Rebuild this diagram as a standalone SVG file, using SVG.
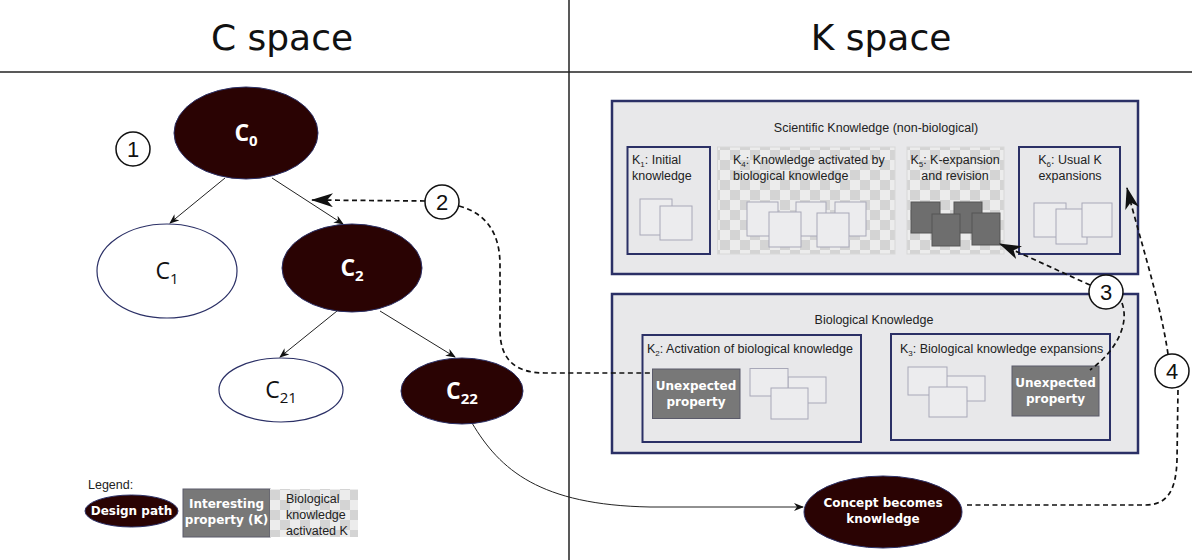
<svg xmlns="http://www.w3.org/2000/svg" width="1192" height="560" viewBox="0 0 1192 560">
<style>
.title{font-family:"DejaVu Sans",sans-serif;font-size:36px;fill:#111;text-anchor:middle}
.lbl{font-family:"Liberation Sans",Arial,sans-serif;font-size:12.5px;fill:#222}
.wb{font-family:"DejaVu Sans","Liberation Sans",sans-serif;font-size:12px;font-weight:bold;fill:#fff;text-anchor:middle}
.cw{font-family:"Open Sans","Liberation Sans",sans-serif;font-size:23px;font-weight:bold;fill:#fff;text-anchor:middle}
.cb{font-family:"Open Sans","Liberation Sans",sans-serif;font-size:23px;fill:#111;text-anchor:middle}
.num{font-family:"Liberation Sans",Arial,sans-serif;font-size:22px;fill:#111;text-anchor:middle}
.dark{fill:#2a0303;stroke:#2b3066;stroke-width:1}
.light{fill:#fff;stroke:#2b3066;stroke-width:1.2}
.outer{fill:#e8e8ea;stroke:#2b3066;stroke-width:2.5}
.inner{fill:#e8e8ea;stroke:#2b3066;stroke-width:2}
.chkbox{fill:url(#chk);stroke:#d8d8d8;stroke-width:1}
.sq{fill:#ececee;stroke:#a8a8b8;stroke-width:1}
.dsq{fill:#6e6e6e;stroke:#555;stroke-width:1}
.prop{fill:#787878;stroke:#5a5a6a;stroke-width:1}
.circ{fill:#fff;stroke:#111;stroke-width:1.5}
.edge{fill:none;stroke:#222;stroke-width:1}
.dash{fill:none;stroke:#111;stroke-width:1.7;stroke-dasharray:5 3.5}
</style>
<defs>
<pattern id="chk" width="20" height="20" patternUnits="userSpaceOnUse">
<rect width="20" height="20" fill="#ececec"/>
<rect width="10" height="10" fill="#d4d4d4"/>
<rect x="10" y="10" width="10" height="10" fill="#d4d4d4"/>
</pattern>
<marker id="ah" markerWidth="10" markerHeight="8" refX="9" refY="4" orient="auto" markerUnits="userSpaceOnUse">
<path d="M0,0 L10,4 L0,8 L3,4 Z" fill="#111"/>
</marker>
<marker id="ahb" markerWidth="22" markerHeight="14" refX="21" refY="7" orient="auto" markerUnits="userSpaceOnUse">
<path d="M0,0 L22,7 L0,14 L6,7 Z" fill="#111"/>
</marker>
</defs>
<rect width="1192" height="560" fill="#fff"/>

<g id="frame">
<line x1="0" y1="72" x2="1192" y2="72" stroke="#222" stroke-width="1.5"/>
<line x1="569" y1="0" x2="569" y2="560" stroke="#222" stroke-width="1.5"/>
<text class="title" x="282" y="50">C space</text>
<text class="title" x="881" y="50">K space</text>
</g>

<g id="scientific">
<rect class="outer" x="612" y="101" width="526" height="173"/>
<text class="lbl" x="876" y="132" text-anchor="middle">Scientific Knowledge (non-biological)</text>
</g>
<g id="K1">
<rect class="inner" x="627.5" y="147" width="82.5" height="107"/>
<text class="lbl" x="632" y="164">K<tspan font-size="8" dy="3">1</tspan><tspan dy="-3">: Initial</tspan></text>
<text class="lbl" x="632" y="180">knowledge</text>
<rect class="sq" x="640" y="199" width="32" height="36"/>
<rect class="sq" x="660" y="206" width="32" height="34"/>
</g>
<g id="K4">
<rect class="chkbox" x="717.5" y="147" width="177.5" height="107"/>
<text class="lbl" x="733" y="164">K<tspan font-size="8" dy="3">4</tspan><tspan dy="-3">: Knowledge activated by</tspan></text>
<text class="lbl" x="733" y="180">biological knowledge</text>
<rect class="sq" x="747" y="202" width="31" height="34"/>
<rect class="sq" x="796" y="202" width="30" height="34"/>
<rect class="sq" x="835" y="202" width="31" height="34"/>
<rect class="sq" x="769" y="212" width="32" height="35"/>
<rect class="sq" x="817" y="213" width="32" height="34"/>
</g>
<g id="K5">
<rect class="chkbox" x="907" y="147" width="97" height="107"/>
<text class="lbl" x="955" y="164" text-anchor="middle">K<tspan font-size="8" dy="3">5</tspan><tspan dy="-3">: K-expansion</tspan></text>
<text class="lbl" x="955" y="180" text-anchor="middle">and revision</text>
<rect class="dsq" x="911" y="202" width="29" height="31"/>
<rect class="dsq" x="954" y="202" width="28" height="31"/>
<rect class="dsq" x="932" y="214" width="28" height="32"/>
<rect class="dsq" x="972" y="213" width="28" height="32"/>
</g>
<g id="K6">
<rect class="inner" x="1019" y="147" width="101" height="107"/>
<text class="lbl" x="1070" y="164" text-anchor="middle">K<tspan font-size="8" dy="3">6</tspan><tspan dy="-3">: Usual K</tspan></text>
<text class="lbl" x="1070" y="180" text-anchor="middle">expansions</text>
<rect class="sq" x="1034" y="203" width="32" height="34"/>
<rect class="sq" x="1056" y="209" width="31" height="35"/>
<rect class="sq" x="1082" y="203" width="30" height="34"/>
</g>

<g id="biological">
<rect class="outer" x="612" y="294" width="526" height="159"/>
<text class="lbl" x="874" y="324" text-anchor="middle">Biological Knowledge</text>
</g>
<g id="K2">
<rect class="inner" x="642.5" y="335" width="218.5" height="107"/>
<text class="lbl" x="647" y="353">K<tspan font-size="8" dy="3">2</tspan><tspan dy="-3">: Activation of biological knowledge</tspan></text>
<rect class="prop" x="652.5" y="369" width="87.5" height="49.5"/>
<text class="wb" x="696" y="390">Unexpected</text>
<text class="wb" x="696" y="406">property</text>
<rect class="sq" x="788" y="377" width="38" height="26"/>
<rect class="sq" x="750" y="368.5" width="38" height="27.5"/>
<rect class="sq" x="771" y="388" width="37" height="31"/>
</g>
<g id="K3">
<rect class="inner" x="891" y="334" width="219" height="106"/>
<text class="lbl" x="900" y="353">K<tspan font-size="8" dy="3">3</tspan><tspan dy="-3">: Biological knowledge expansions</tspan></text>
<rect class="sq" x="946" y="376" width="39" height="25"/>
<rect class="sq" x="908" y="367" width="39" height="28"/>
<rect class="sq" x="929" y="387" width="38" height="30"/>
<rect class="prop" x="1012" y="366" width="87" height="50"/>
<text class="wb" x="1055.5" y="387">Unexpected</text>
<text class="wb" x="1055.5" y="403">property</text>
</g>

<g id="connectors">
<line class="edge" x1="225" y1="178" x2="170" y2="223" marker-end="url(#ah)"/>
<line class="edge" x1="272" y1="178" x2="343" y2="224" marker-end="url(#ah)"/>
<line class="edge" x1="337" y1="311" x2="280" y2="357" marker-end="url(#ah)"/>
<line class="edge" x1="380" y1="311" x2="455" y2="357" marker-end="url(#ah)"/>
<path class="edge" d="M472,423 C500,470 540,505 650,507 L803,507" marker-end="url(#ah)"/>
<path class="dash" d="M425,201 L312,200" marker-end="url(#ahb)"/>
<path class="dash" d="M459,206 C488,214 500,235 500,265 L500,330 C500,362 518,373 545,373 L652,373"/>
<path class="dash" d="M1090,285 L1000,244" marker-end="url(#ahb)"/>
<path class="dash" d="M1122,303 C1130,325 1115,352 1090,370"/>
<path class="dash" d="M1168,354 C1160,300 1140,240 1127,188" marker-end="url(#ahb)"/>
<path class="dash" d="M967,505 L1145,505 C1168,505 1176,490 1177,460 L1178,389"/>
</g>

<g id="C0"><ellipse class="dark" cx="246" cy="133" rx="72" ry="46"/><text class="cw" x="246" y="141">C<tspan font-size="15" dy="5">0</tspan></text></g>
<g id="C1"><ellipse class="light" cx="167" cy="271" rx="70" ry="47"/><text class="cb" x="167" y="279">C<tspan font-size="15" dy="5">1</tspan></text></g>
<g id="C2"><ellipse class="dark" cx="352" cy="268" rx="70" ry="44"/><text class="cw" x="352" y="276">C<tspan font-size="15" dy="5">2</tspan></text></g>
<g id="C21"><ellipse class="light" cx="281" cy="390" rx="62" ry="32"/><text class="cb" x="281" y="398">C<tspan font-size="15" dy="5">21</tspan></text></g>
<g id="C22"><ellipse class="dark" cx="462" cy="391" rx="61" ry="33"/><text class="cw" x="462" y="399">C<tspan font-size="15" dy="5">22</tspan></text></g>
<g id="concept"><ellipse class="dark" cx="883" cy="512" rx="79" ry="36"/><text class="wb" x="883" y="507">Concept becomes</text><text class="wb" x="883" y="523">knowledge</text></g>

<g id="n1"><circle class="circ" cx="133" cy="149" r="17"/><text class="num" x="133" y="157">1</text></g>
<g id="n2"><circle class="circ" cx="442" cy="202" r="17"/><text class="num" x="442" y="210">2</text></g>
<g id="n3"><circle class="circ" cx="1106" cy="292" r="17"/><text class="num" x="1106" y="300">3</text></g>
<g id="n4"><circle class="circ" cx="1172" cy="371" r="17"/><text class="num" x="1172" y="379">4</text></g>

<g id="legend">
<text class="lbl" x="88" y="489">Legend:</text>
<ellipse class="dark" cx="131.5" cy="511" rx="46.5" ry="16"/>
<text class="wb" x="131.5" y="515">Design path</text>
<rect class="prop" x="183" y="489" width="87" height="48"/>
<text class="wb" x="226.5" y="508">Interesting</text>
<text class="wb" x="226.5" y="524">property (K)</text>
<rect x="270" y="489" width="88" height="48" fill="url(#chk)"/>
<text class="lbl" x="286" y="503">Biological</text>
<text class="lbl" x="286" y="519">knowledge</text>
<text class="lbl" x="286" y="535">activated K</text>
</g>
</svg>
